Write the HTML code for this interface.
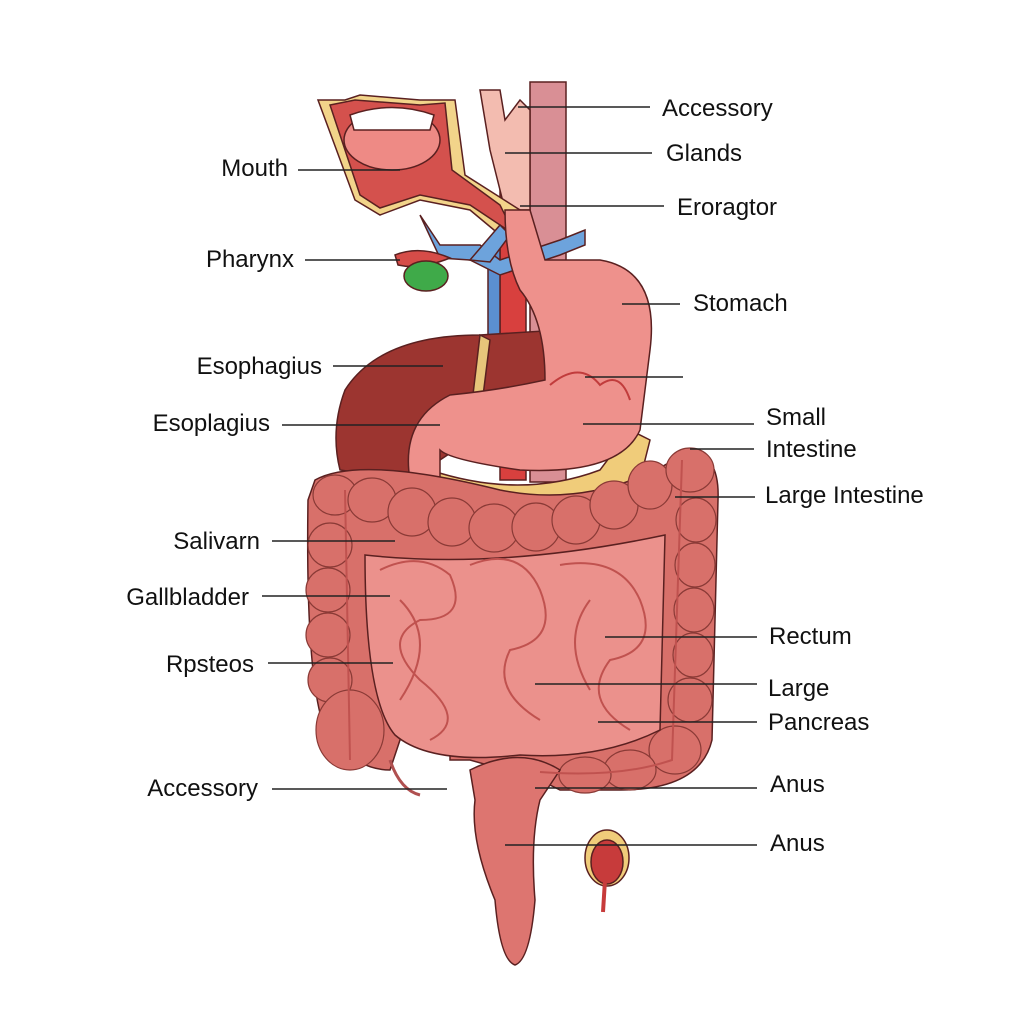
<!DOCTYPE html>
<html><head><meta charset="utf-8"><style>
html,body{margin:0;padding:0;background:#fff;width:1024px;height:1024px;overflow:hidden}
svg text{font-family:"Liberation Sans",sans-serif;font-size:24px;fill:#111}
</style></head><body>
<svg width="1024" height="1024" viewBox="0 0 1024 1024" xmlns="http://www.w3.org/2000/svg">
<rect width="1024" height="1024" fill="#fff"/>
<g stroke="#5a2020" stroke-width="1.5">
<rect x="530" y="82" width="36" height="400" fill="#d98f95"/>
<rect x="500" y="180" width="26" height="300" fill="#d8403e"/>
<rect x="488" y="240" width="12" height="100" fill="#5b8fd0"/>
<path d="M480 90 L500 90 L505 120 L520 100 L530 110 L530 210 L505 210 L490 150 Z" fill="#f3bcb0"/>
<path d="M318 100 L345 100 L360 95 L420 100 L440 100 L455 100 L465 175 L520 210 L528 240 L500 235 L470 210 L420 200 L380 215 L355 200 Z" fill="#f2d48a"/>
<path d="M330 105 L355 100 L420 105 L445 103 L452 170 L500 205 L515 235 L470 205 L420 195 L380 208 L360 195 Z" fill="#d4514d"/>
<ellipse cx="392" cy="140" rx="48" ry="30" fill="#ee8a85"/>
<path d="M350 115 Q392 100 434 115 L430 130 L354 130 Z" fill="#fff"/>
<path d="M420 215 L440 245 L480 245 L500 260 L560 240 L585 230 L585 245 L560 255 L500 275 L470 260 L440 258 Z" fill="#6da3dc"/>
<path d="M470 260 L500 225 L510 235 L490 262Z" fill="#6da3dc"/>
<path d="M395 255 Q420 245 450 258 Q420 270 398 265 Z" fill="#d64c48"/>
<ellipse cx="426" cy="276" rx="22" ry="15" fill="#3faa49"/>
<path d="M345 390 Q380 335 480 335 L560 330 L560 420 L470 440 L410 480 L340 470 Q330 430 345 390 Z" fill="#9c3530"/>
<path d="M480 335 L490 340 L480 420 L470 420 Z" fill="#e7c57a"/>
<path d="M430 470 Q520 500 600 470 L630 430 L650 440 L640 480 Q560 520 440 500 Z" fill="#f0cc7a"/>
<path d="M505 210 L530 210 L545 260 L600 260 Q660 270 650 350 L640 430 Q620 475 520 470 Q450 460 440 450 L440 480 L410 480 Q400 420 450 395 Q500 390 545 380 Q545 320 520 290 Q505 260 505 210 Z" fill="#ee918c"/>
<path d="M550 385 Q580 360 600 385 Q620 370 630 400" fill="none" stroke="#c13c3c" stroke-width="2"/>
<path d="M315 480 Q360 455 500 490 Q600 510 690 450 Q720 455 718 500 L712 740 Q700 790 620 790 L560 790 L540 780 L470 760 L450 760 L450 720 L400 740 L390 770 Q360 770 330 740 Q305 700 308 500 Z" fill="#d8706a"/>
</g>
<!-- haustra -->
<g fill="#d8706a" stroke="#8a3a36" stroke-width="1.2">
<ellipse cx="335" cy="495" rx="22" ry="20"/><ellipse cx="372" cy="500" rx="24" ry="22"/><ellipse cx="412" cy="512" rx="24" ry="24"/><ellipse cx="452" cy="522" rx="24" ry="24"/><ellipse cx="494" cy="528" rx="25" ry="24"/><ellipse cx="536" cy="527" rx="24" ry="24"/><ellipse cx="576" cy="520" rx="24" ry="24"/><ellipse cx="614" cy="505" rx="24" ry="24"/><ellipse cx="650" cy="485" rx="22" ry="24"/><ellipse cx="690" cy="470" rx="24" ry="22"/>
<ellipse cx="330" cy="545" rx="22" ry="22"/><ellipse cx="328" cy="590" rx="22" ry="22"/><ellipse cx="328" cy="635" rx="22" ry="22"/><ellipse cx="330" cy="680" rx="22" ry="22"/><ellipse cx="350" cy="730" rx="34" ry="40"/>
<ellipse cx="696" cy="520" rx="20" ry="22"/><ellipse cx="695" cy="565" rx="20" ry="22"/><ellipse cx="694" cy="610" rx="20" ry="22"/><ellipse cx="693" cy="655" rx="20" ry="22"/><ellipse cx="690" cy="700" rx="22" ry="22"/><ellipse cx="675" cy="750" rx="26" ry="24"/><ellipse cx="630" cy="770" rx="26" ry="20"/><ellipse cx="585" cy="775" rx="26" ry="18"/>
</g>
<g stroke="#5a2020" stroke-width="1.5">
<path d="M365 555 Q500 570 665 535 L660 730 Q600 760 520 755 Q430 765 395 735 Q365 700 365 555Z" fill="#eb918c"/>
<path d="M470 770 Q520 745 560 770 L540 800 Q530 840 535 900 Q530 960 515 965 Q500 960 495 900 Q470 840 475 800 Z" fill="#dd7570"/>
<path d="M390 760 Q400 790 420 795" fill="none" stroke="#b05050" stroke-width="3"/>
<ellipse cx="607" cy="858" rx="22" ry="28" fill="#f0cc7a"/>
<ellipse cx="607" cy="862" rx="16" ry="22" fill="#c73b3b"/>
<path d="M605 880 L603 912" stroke="#c73b3b" stroke-width="4"/>
</g>
<g fill="none" stroke="#c0524f" stroke-width="2">
<path d="M380 570 Q420 550 450 575 Q470 620 420 620 Q380 640 420 680 Q470 720 430 740"/>
<path d="M470 565 Q520 545 540 590 Q560 640 510 650 Q490 690 540 720"/>
<path d="M560 565 Q620 555 640 600 Q660 650 610 660 Q580 700 630 730"/>
<path d="M400 600 Q440 640 400 700 M590 600 Q560 640 590 690"/>
<path d="M345 490 L350 760 M682 460 L672 760 Q620 778 540 772"/>
</g>
<g stroke="#222" stroke-width="1.5">
<line x1="518" y1="107" x2="650" y2="107"/>
<line x1="505" y1="153" x2="652" y2="153"/>
<line x1="520" y1="206" x2="664" y2="206"/>
<line x1="298" y1="170" x2="400" y2="170"/>
<line x1="305" y1="260" x2="400" y2="260"/>
<line x1="622" y1="304" x2="680" y2="304"/>
<line x1="333" y1="366" x2="443" y2="366"/>
<line x1="585" y1="377" x2="683" y2="377"/>
<line x1="282" y1="425" x2="440" y2="425"/>
<line x1="583" y1="424" x2="754" y2="424"/>
<line x1="690" y1="449" x2="754" y2="449"/>
<line x1="675" y1="497" x2="755" y2="497"/>
<line x1="272" y1="541" x2="395" y2="541"/>
<line x1="262" y1="596" x2="390" y2="596"/>
<line x1="605" y1="637" x2="757" y2="637"/>
<line x1="268" y1="663" x2="393" y2="663"/>
<line x1="535" y1="684" x2="757" y2="684"/>
<line x1="598" y1="722" x2="757" y2="722"/>
<line x1="272" y1="789" x2="447" y2="789"/>
<line x1="535" y1="788" x2="757" y2="788"/>
<line x1="505" y1="845" x2="757" y2="845"/>
</g>
<text x="662" y="116">Accessory</text>
<text x="666" y="161">Glands</text>
<text x="677" y="215">Eroragtor</text>
<text x="288" y="176" text-anchor="end">Mouth</text>
<text x="294" y="267" text-anchor="end">Pharynx</text>
<text x="693" y="311">Stomach</text>
<text x="322" y="374" text-anchor="end">Esophagius</text>
<text x="270" y="431" text-anchor="end">Esoplagius</text>
<text x="766" y="425">Small</text>
<text x="766" y="457">Intestine</text>
<text x="765" y="503">Large Intestine</text>
<text x="260" y="549" text-anchor="end">Salivarn</text>
<text x="249" y="605" text-anchor="end">Gallbladder</text>
<text x="769" y="644">Rectum</text>
<text x="254" y="672" text-anchor="end">Rpsteos</text>
<text x="768" y="696">Large</text>
<text x="768" y="730">Pancreas</text>
<text x="258" y="796" text-anchor="end">Accessory</text>
<text x="770" y="792">Anus</text>
<text x="770" y="851">Anus</text>
</svg>
</body></html>
